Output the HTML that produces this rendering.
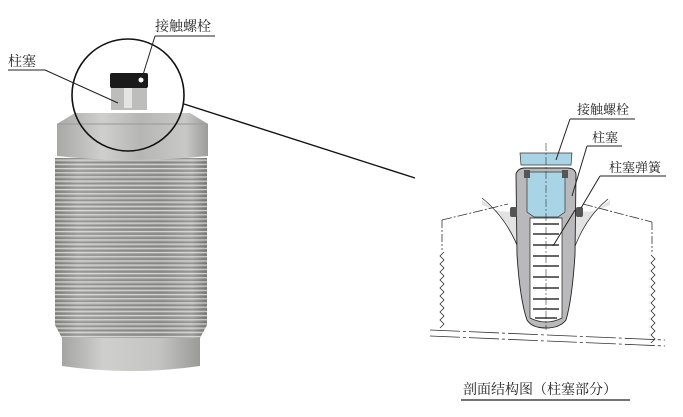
<!DOCTYPE html>
<html><head><meta charset="utf-8"><style>
html,body{margin:0;padding:0;background:#fff;width:683px;height:417px;overflow:hidden}
text{font-family:"Liberation Serif","Noto Serif CJK SC",serif;fill:#222}
</style></head><body>
<svg width="683" height="417" viewBox="0 0 683 417" xmlns="http://www.w3.org/2000/svg">
<defs>
<linearGradient id="metal" x1="0" x2="1" y1="0" y2="0">
<stop offset="0" stop-color="#8a8a88"/><stop offset="0.15" stop-color="#b4b4b2"/>
<stop offset="0.45" stop-color="#a2a2a0"/><stop offset="0.7" stop-color="#999997"/>
<stop offset="0.9" stop-color="#b2b2b0"/><stop offset="1" stop-color="#80807e"/></linearGradient>
<linearGradient id="ring" x1="0" x2="1"><stop offset="0" stop-color="#a4a4a2"/><stop offset="0.3" stop-color="#cfcfcd"/><stop offset="0.7" stop-color="#c4c4c2"/><stop offset="1" stop-color="#9a9a98"/></linearGradient>
<linearGradient id="hex" x1="0" x2="1"><stop offset="0" stop-color="#a8a8a6"/><stop offset="0.3" stop-color="#cfcfcd"/><stop offset="0.55" stop-color="#b6b6b4"/><stop offset="0.85" stop-color="#c8c8c6"/><stop offset="1" stop-color="#9c9c9a"/></linearGradient>
<pattern id="thr" width="4" height="4.2" patternUnits="userSpaceOnUse">
<rect y="0" width="4" height="1.1" fill="#e0e0de" opacity="0.85"/><rect y="2.4" width="4" height="1.2" fill="#5e5e5e" opacity="0.4"/></pattern>
</defs>
<!-- cylinder -->
<path d="M62 336 L200 336 L200 366 Q131 376 62 366 Z" fill="url(#ring)"/>
<path d="M55 158 L207 158 L207 325 L200 338 L62 338 L55 325 Z" fill="url(#metal)"/>
<path d="M55 158 L207 158 L207 325 L200 338 L62 338 L55 325 Z" fill="url(#thr)"/>
<path d="M57 124 L75 113 L190 113 L208 124 L208 156 Q130 164 57 156 Z" fill="url(#hex)"/>
<path d="M57 124 L208 124" stroke="#999" stroke-width="1"/>
<!-- plunger + bolt -->
<rect x="111" y="86" width="36" height="24" fill="#bdbdbb"/>
<rect x="124" y="88" width="8" height="20" fill="#e4e4e2"/>
<rect x="110" y="73" width="38" height="15" rx="2" fill="#1a1a1a"/>
<circle cx="141" cy="80" r="2.5" fill="#fff"/>
<!-- circle -->
<circle cx="128" cy="95" r="56" fill="none" stroke="#111" stroke-width="1.6"/>
<line x1="184" y1="104" x2="415" y2="178" stroke="#111" stroke-width="1.4"/>
<!-- labels left -->
<text x="155" y="31" font-size="14">接触螺栓</text>
<line x1="155" y1="36" x2="215" y2="36" stroke="#222"/>
<line x1="155" y1="36" x2="142" y2="78" stroke="#222"/>
<text x="8" y="66" font-size="14">柱塞</text>
<line x1="8" y1="70" x2="45" y2="70" stroke="#222"/>
<line x1="45" y1="70" x2="118" y2="103" stroke="#222"/>
<!-- diagram -->
<path d="M482 200 Q510 220 524 262 L527 310 Q530 328 546 328 Q562 328 566 310 L569 262 Q580 220 610 200 L610 205 Q588 215 578 210 L516 210 Q505 215 482 205 Z" fill="#e3e3e3"/>
<path d="M482 198 Q512 222 524 265 L527 310 Q530 328 546 328 Q562 328 566 310 L569 265 Q580 222 608 199" fill="none" stroke="#222" stroke-width="0.8"/>
<path d="M516 174 Q518 168 525 168 L567 168 Q575 168 576 174 L575 255 Q572 300 566 320 Q560 328 546 328 Q532 328 527 320 Q520 300 517 255 Z" fill="#b9b9bb" stroke="#222" stroke-width="0.9"/>
<path d="M530 218 L562 218 L562 318 Q546 326 530 318 Z" fill="#fff" stroke="#222" stroke-width="0.7"/>
<g stroke="#333" stroke-width="1.6">
<line x1="533" y1="224" x2="559" y2="224"/><line x1="533" y1="234" x2="559" y2="234"/><line x1="533" y1="245" x2="559" y2="245"/><line x1="533" y1="256" x2="559" y2="256"/><line x1="533" y1="266" x2="559" y2="266"/><line x1="533" y1="277" x2="559" y2="277"/><line x1="533" y1="288" x2="559" y2="288"/><line x1="533" y1="299" x2="559" y2="299"/><line x1="533" y1="309" x2="559" y2="309"/><line x1="535" y1="318" x2="557" y2="318"/></g>
<path d="M527 172 L565 172 L565 212 L558 217 L534 217 L527 212 Z" fill="#a8d4e6" stroke="#333" stroke-width="0.7"/>
<path d="M520 153 L572 153 L571 165 L521 165 Z" fill="#a8d4e6" stroke="#333" stroke-width="0.7"/>
<rect x="524" y="170" width="6" height="8" fill="#555"/><rect x="562" y="170" width="6" height="8" fill="#555"/>
<rect x="510" y="207" width="7" height="10" rx="2" fill="#555"/><rect x="576" y="207" width="7" height="10" rx="2" fill="#555"/>
<line x1="546" y1="143" x2="546" y2="330" stroke="#333" stroke-width="0.6" stroke-dasharray="8,2,2,2"/>
<path d="M442 220 L508 204 M583 204 L652 222" stroke="#333" stroke-width="0.8" stroke-dasharray="10,2,2,2" fill="none"/>
<path d="M442 220 L442 250 M652 222 L652 252" stroke="#333" stroke-width="0.8" stroke-dasharray="8,2,2,2"/>
<path d="M444 252 l-4 4 l4 4 l-4 4 l4 4 l-4 4 l4 4 l-4 4 l4 4 l-4 4 l4 4 l-4 4 l4 4 l-4 4 l4 4 l-4 4 l4 4 l-4 4 l4 4 l-4 4" fill="none" stroke="#333" stroke-width="0.8"/>
<path d="M651 255 l4 4 l-4 4 l4 4 l-4 4 l4 4 l-4 4 l4 4 l-4 4 l4 4 l-4 4 l4 4 l-4 4 l4 4 l-4 4 l4 4 l-4 4 l4 4 l-4 4 l4 4 l-4 4 l4 4 l-4 4" fill="none" stroke="#333" stroke-width="0.8"/>
<line x1="430" y1="330" x2="665" y2="340" stroke="#333" stroke-width="0.8" stroke-dasharray="30,3,3,3"/>
<line x1="430" y1="336" x2="665" y2="346" stroke="#333" stroke-width="0.8" stroke-dasharray="30,3,3,3"/>
<!-- diagram labels -->
<text x="577" y="114" font-size="13">接触螺栓</text>
<line x1="570" y1="119" x2="635" y2="119" stroke="#222"/>
<line x1="570" y1="119" x2="556" y2="160" stroke="#222"/>
<text x="592" y="142" font-size="13">柱塞</text>
<line x1="587" y1="146" x2="622" y2="146" stroke="#222"/>
<line x1="587" y1="146" x2="572" y2="196" stroke="#222"/>
<text x="609" y="172" font-size="13">柱塞弹簧</text>
<line x1="600" y1="176" x2="666" y2="176" stroke="#222"/>
<line x1="600" y1="176" x2="581" y2="208" stroke="#222"/>
<line x1="575" y1="210" x2="553" y2="246" stroke="#222"/>
<text x="463" y="394" font-size="14">剖面结构图（柱塞部分）</text>
<line x1="461" y1="400" x2="630" y2="400" stroke="#222" stroke-width="1.2"/>
</svg>
</body></html>
